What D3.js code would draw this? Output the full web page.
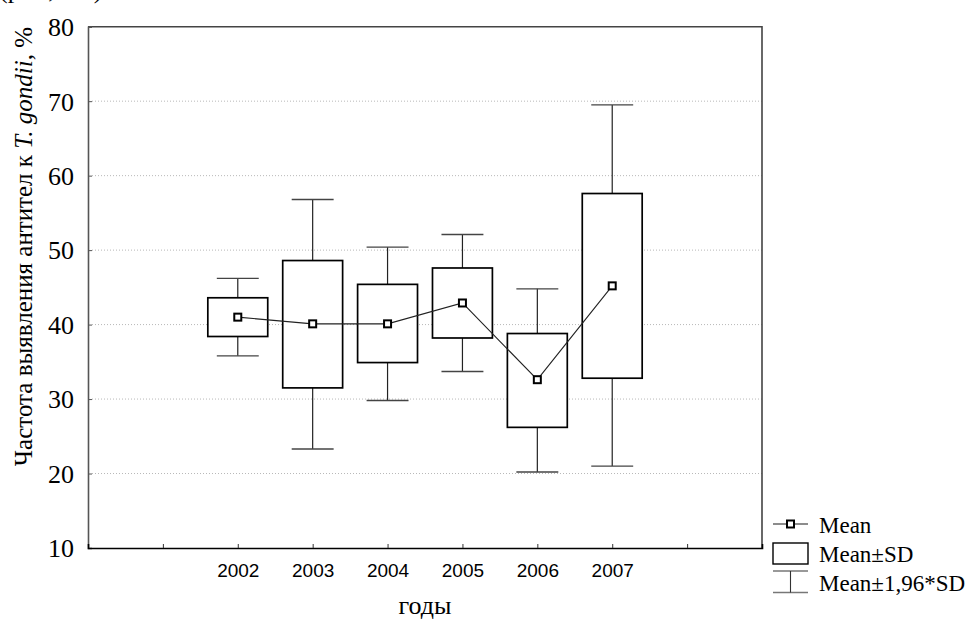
<!DOCTYPE html>
<html>
<head>
<meta charset="utf-8">
<script src="https://cdn.jsdelivr.net/npm/d3@7"></script>
<style>
  html, body { margin: 0; padding: 0; background: #fff; }
  svg { display: block; }
</style>
</head>
<body>
<svg id="chart" width="972" height="622"></svg>
<script>
// ---- data ----
const years      = ["2002", "2003", "2004", "2005", "2006", "2007"];
const means      = [41.0, 40.1, 40.1, 42.9, 32.6, 45.2];
const sdLow      = [38.4, 31.5, 34.9, 38.2, 26.2, 32.8];
const sdHigh     = [43.6, 48.6, 45.4, 47.6, 38.8, 57.6];
const ciLow      = [35.8, 23.3, 29.8, 33.7, 20.2, 21.0];
const ciHigh     = [46.2, 56.8, 50.4, 52.1, 44.8, 69.5];
const yTicks     = [10, 20, 30, 40, 50, 60, 70, 80];
const legendText = ["Mean", "Mean\u00B1SD", "Mean\u00B11,96*SD"];

const rows = years.map((y, i) => ({
  year: y, pos: i + 2, mean: means[i],
  lo: sdLow[i], hi: sdHigh[i], wlo: ciLow[i], whi: ciHigh[i]
}));

const svg = d3.select("#chart");
const L = 88, R = 762, T = 26.7, B = 548;

const x = d3.scaleLinear().domain([0, 9]).range([L, R]);
const y = d3.scaleLinear().domain([10, 80]).range([B, T]);
const step = x(1) - x(0);
const boxW = step * 0.8, capW = step * 0.56;

const serif = "'Liberation Serif', 'Times New Roman', serif";
const sans = "'Liberation Sans', Arial, sans-serif";

// cut-off text at the very top
svg.append("text").attr("x", -1).attr("y", -2)
  .attr("font-family", serif).attr("font-size", 26)
  .text("(р<0,001)");

// grid lines
svg.append("g").selectAll("line").data(yTicks.filter(v => v > 10 && v < 80)).join("line")
  .attr("x1", L + 4).attr("x2", R)
  .attr("y1", d => y(d)).attr("y2", d => y(d))
  .attr("stroke", "#b8b8b8").attr("stroke-width", 1)
  .attr("stroke-dasharray", "1,2");

// frame (top & right)
svg.append("path")
  .attr("d", `M${L},${T}H${R}V${B}`)
  .attr("fill", "none").attr("stroke", "#444").attr("stroke-width", 1.6);

// y axis
const yAxis = d3.axisLeft(y).tickValues(yTicks).tickSize(-4).tickPadding(14)
  .tickFormat(d3.format("d"));
const gy = svg.append("g").attr("transform", `translate(${L},0)`).call(yAxis);
gy.select(".domain").attr("stroke", "#555").attr("stroke-width", 1.6);
gy.selectAll(".tick line").attr("stroke", "#555");
gy.selectAll(".tick text").attr("font-family", serif).attr("font-size", 26)
  .attr("fill", "#000").attr("dy", "0.34em");

// x axis
const xAxis = d3.axisBottom(x).tickValues(d3.range(1, 9)).tickSize(-4).tickPadding(16)
  .tickFormat(d => { const r = rows.find(o => o.pos === d); return r ? r.year : ""; });
const gx = svg.append("g").attr("transform", `translate(0,${B})`).call(xAxis);
gx.select(".domain").attr("stroke", "#000").attr("stroke-width", 1.6);
gx.selectAll(".tick line").attr("stroke", "#333");
gx.selectAll(".tick text").attr("font-family", sans).attr("font-size", 19).attr("fill", "#000");

// axis titles
svg.append("text")
  .attr("transform", `translate(32,27) rotate(-90)`)
  .attr("text-anchor", "end")
  .attr("font-family", serif).attr("font-size", 25)
  .call(t => {
    t.append("tspan").text("Частота выявления антител к ");
    t.append("tspan").attr("font-style", "italic").text("T. gondii");
    t.append("tspan").text(", %");
  });

svg.append("text").attr("x", (L + R) / 2).attr("y", 614)
  .attr("text-anchor", "middle").attr("font-family", serif).attr("font-size", 26)
  .text("годы");

// whiskers
const g = svg.append("g");
g.selectAll("line.wh").data(rows).join("line").attr("class", "wh")
  .attr("x1", d => x(d.pos)).attr("x2", d => x(d.pos))
  .attr("y1", d => y(d.whi)).attr("y2", d => y(d.wlo))
  .attr("stroke", "#222").attr("stroke-width", 1.2);
g.selectAll("line.capT").data(rows).join("line").attr("class", "capT")
  .attr("x1", d => x(d.pos) - capW / 2).attr("x2", d => x(d.pos) + capW / 2)
  .attr("y1", d => y(d.whi)).attr("y2", d => y(d.whi))
  .attr("stroke", "#444").attr("stroke-width", 1.4);
g.selectAll("line.capB").data(rows).join("line").attr("class", "capB")
  .attr("x1", d => x(d.pos) - capW / 2).attr("x2", d => x(d.pos) + capW / 2)
  .attr("y1", d => y(d.wlo)).attr("y2", d => y(d.wlo))
  .attr("stroke", "#444").attr("stroke-width", 1.4);

// boxes
g.selectAll("rect.box").data(rows).join("rect").attr("class", "box")
  .attr("x", d => x(d.pos) - boxW / 2).attr("width", boxW)
  .attr("y", d => y(d.hi)).attr("height", d => y(d.lo) - y(d.hi))
  .attr("fill", "#fff").attr("stroke", "#000").attr("stroke-width", 1.7);

// mean line
g.append("path").datum(rows)
  .attr("d", d3.line().x(d => x(d.pos)).y(d => y(d.mean)))
  .attr("fill", "none").attr("stroke", "#222").attr("stroke-width", 1.1);

// mean markers
g.selectAll("rect.mk").data(rows).join("rect").attr("class", "mk")
  .attr("x", d => x(d.pos) - 3.5).attr("y", d => y(d.mean) - 3.5)
  .attr("width", 7).attr("height", 7)
  .attr("fill", "#fff").attr("stroke", "#000").attr("stroke-width", 2);

// legend
const lg = svg.append("g");
const lx1 = 773, lx2 = 808, lmid = (lx1 + lx2) / 2, ltx = 819;
const base = [533, 562, 591];
// Mean
lg.append("line").attr("x1", lx1).attr("x2", lx2).attr("y1", base[0] - 9).attr("y2", base[0] - 9)
  .attr("stroke", "#666").attr("stroke-width", 1.4);
lg.append("rect").attr("x", lmid - 3.5).attr("y", base[0] - 12.5).attr("width", 7).attr("height", 7)
  .attr("fill", "#fff").attr("stroke", "#000").attr("stroke-width", 2);
// Mean±SD
lg.append("rect").attr("x", lx1).attr("y", base[1] - 19).attr("width", lx2 - lx1).attr("height", 21)
  .attr("fill", "#fff").attr("stroke", "#000").attr("stroke-width", 1.4);
// Mean±1,96*SD
lg.append("line").attr("x1", lx1).attr("x2", lx2).attr("y1", base[2] - 20).attr("y2", base[2] - 20)
  .attr("stroke", "#777").attr("stroke-width", 1.4);
lg.append("line").attr("x1", lx1).attr("x2", lx2).attr("y1", base[2] + 1.5).attr("y2", base[2] + 1.5)
  .attr("stroke", "#777").attr("stroke-width", 1.4);
lg.append("line").attr("x1", lmid).attr("x2", lmid).attr("y1", base[2] - 20).attr("y2", base[2] + 1.5)
  .attr("stroke", "#333").attr("stroke-width", 1.1);
lg.selectAll("text").data(legendText).join("text")
  .attr("x", ltx).attr("y", (d, i) => base[i])
  .attr("font-family", serif).attr("font-size", 23)
  .text(d => d);
</script>
</body>
</html>
